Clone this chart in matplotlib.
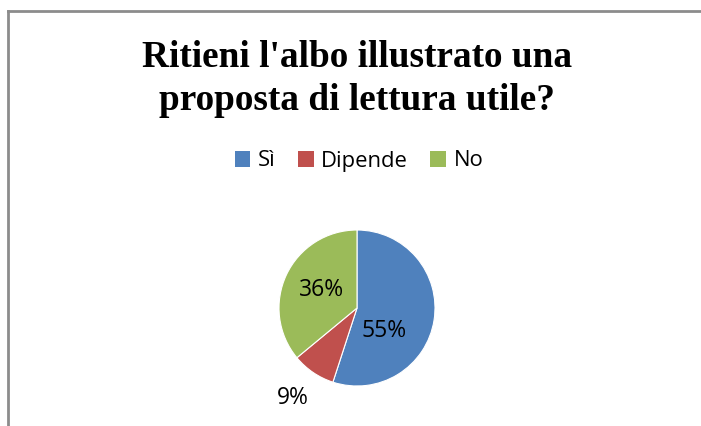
import matplotlib
matplotlib.use("Agg")
import matplotlib.pyplot as plt
from matplotlib.patches import Patch
from matplotlib.lines import Line2D

categories = ["Sì", "Dipende", "No"]
values = [55, 9, 36]
colors = ["#4F81BD", "#C0504D", "#9BBB59"]
label_texts = ["55%", "9%", "36%"]
# label positions in pie radius units (relative to center)
label_pos = [(0.35, -0.29), (-0.82, -1.15), (-0.45, 0.23)]

W, H = 701, 426
fig = plt.figure(figsize=(W / 100, H / 100), dpi=100)
fig.patch.set_facecolor("white")

# frame lines (top and left only)
fig.add_artist(Line2D([8 / W, 1.0], [1 - 11 / H, 1 - 11 / H], transform=fig.transFigure,
                      color="#8c8c8c", lw=2))
fig.add_artist(Line2D([8 / W, 8 / W], [0, 1 - 11 / H], transform=fig.transFigure,
                      color="#8c8c8c", lw=2))

fig.text(357 / W, 1 - 79 / H, "Ritieni l'albo illustrato una\nproposta di lettura utile?",
         ha="center", va="center", family="Liberation Serif", fontweight="bold",
         fontsize=26.8, linespacing=1.3)

cx, cy, r = 357, 308, 78
ax = fig.add_axes([(cx - r) / W, (H - cy - r) / H, 2 * r / W, 2 * r / H])
ax.pie(values, colors=colors, startangle=90, counterclock=False,
       wedgeprops=dict(edgecolor="white", linewidth=0.8), radius=1)
ax.set_xlim(-1, 1)
ax.set_ylim(-1, 1)
ax.set_aspect("equal")
ax.axis("off")
for t, (x, y) in zip(label_texts, label_pos):
    ax.text(x, y, t, ha="center", va="center", fontsize=16.5, family="Open Sans",
            color="black", clip_on=False)

handles = [Patch(facecolor=c, edgecolor="none") for c in colors]
fig.legend(handles, categories, loc="center", bbox_to_anchor=(359 / W, 1 - 161 / H),
           ncol=3, frameon=False, prop=dict(family="Open Sans", size=15.8),
           handlelength=0.72, handleheight=0.72, handletextpad=0.35, columnspacing=1.0)

fig.savefig("out.png", dpi=100)
